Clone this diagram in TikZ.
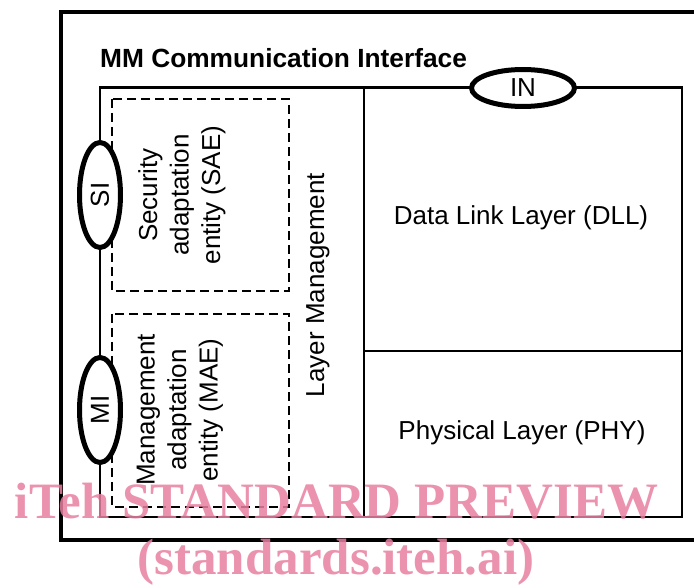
\documentclass[tikz,border=0pt]{standalone}
\usepackage{fontspec}
\setmainfont{Liberation Sans}
\newfontfamily\wmfont{Liberation Serif}
\usetikzlibrary{shapes.geometric}
\definecolor{wmpink}{RGB}{232,128,160}
\begin{document}
\begin{tikzpicture}[x=1pt,y=-1pt,
  lbl/.style={font=\fontsize{26}{31.5}\selectfont, align=center, inner sep=0pt},
  port/.style={ellipse, draw, line width=5pt, fill=white, inner sep=0pt, font=\fontsize{26}{31}\selectfont},
  boxline/.style={draw, line width=2.8pt},
  dbox/.style={draw, dash pattern=on 9pt off 5pt, line width=1.3pt},
  wm/.style={text=wmpink, font=\wmfont\bfseries\fontsize{51}{60}\selectfont, inner sep=0pt, text opacity=0.85}]
\useasboundingbox (0,0) rectangle (694,585);
\begin{scope}
  \clip (0,0) rectangle (694,585);
  \draw[line width=3.2pt] (720,12) -- (61,12) -- (61,540) -- (720,540);
\end{scope}
% inner frame and dividers
\draw[boxline] (100,87.5) rectangle (682,517);
\draw[boxline] (364,87.5) -- (364,517);
\draw[boxline] (364,351) -- (682,351);
% dashed entities
\draw[dbox] (112,99) rectangle (289,291);
\draw[dbox] (112,314) rectangle (289,507);
% ports
\node[port, minimum width=103pt, minimum height=37pt] (IN) at (523,88) {IN};
\node[port, rotate=90, minimum width=105pt, minimum height=41pt] (SI) at (100,195) {SI};
\node[port, rotate=90, minimum width=105pt, minimum height=41pt] (MI) at (100,410) {MI};
% labels
\node[lbl, font=\bfseries\fontsize{26.3}{31}\selectfont, anchor=base west] (title) at (100,68) {MM Communication Interface};
\node[lbl, rotate=90] (sae) at (182,195) {Security\\adaptation\\entity (SAE)};
\node[lbl, rotate=90] (mae) at (180,410) {Management\\adaptation\\entity (MAE)};
\node[lbl, rotate=90] (lm) at (318,285) {Layer Management};
\node[lbl] (dll) at (521,218) {Data Link Layer (DLL)};
\node[lbl] (phy) at (522,433) {Physical Layer (PHY)};
% watermark
\node[wm, anchor=base] (wm1) at (336.5,518) {iTeh STANDARD PREVIEW};
\node[wm, anchor=base] (wm2) at (336,574) {(standards.iteh.ai)};
\end{tikzpicture}
\end{document}
